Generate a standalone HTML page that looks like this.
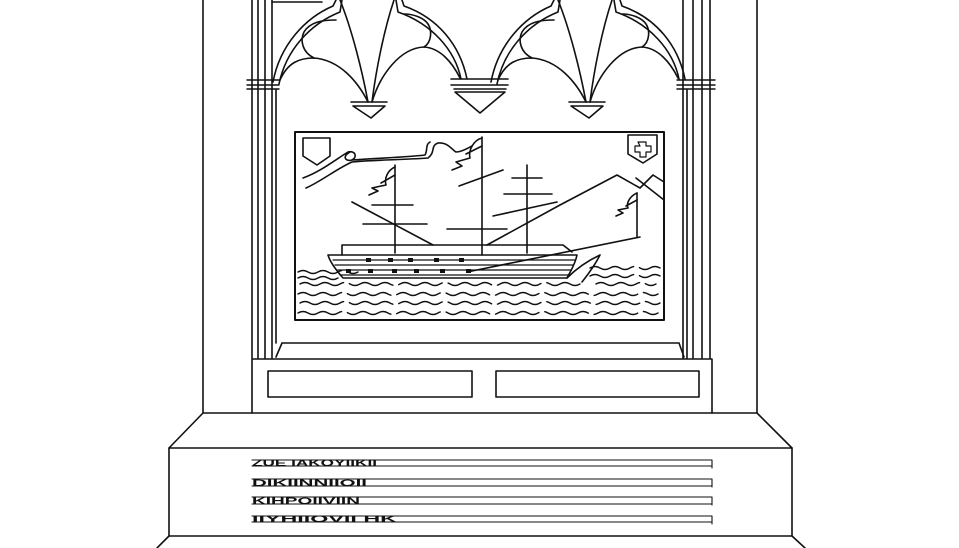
<!DOCTYPE html>
<html><head><meta charset="utf-8"><style>
html,body{margin:0;padding:0;background:#fff;width:959px;height:548px;overflow:hidden}
svg{display:block}
text{font-family:"Liberation Sans",sans-serif;font-weight:bold}
</style></head><body>
<svg width="959" height="548" viewBox="0 0 959 548" xmlns="http://www.w3.org/2000/svg" fill="none" stroke="#111" stroke-width="1.6" stroke-linecap="round" stroke-linejoin="round">
<defs>
<g id="arch">
  <!-- outer arch double line -->
  <path d="M273,82 C280,45 305,18 333,6 L336,0"/>
  <path d="M279,84 C286,50 310,24 340,12 L342,0"/>
  <path d="M467,79 C460,45 438,18 404,6 L402,0"/>
  <path d="M461,79 C455,50 432,24 398,12 L396,0"/>
  <!-- cusp lines to pendant -->
  <path d="M340,0 C352,30 362,70 368,102"/>
  <path d="M394,0 C384,30 376,70 372,102"/>
  <!-- left lobe -->
  <path d="M280,80 C288,62 300,58 314,58 C340,60 358,82 368,102"/>
  <path d="M314,58 C302,52 300,40 304,32 C310,22 322,20 336,20"/>
  <!-- right lobe -->
  <path d="M460,78 C452,62 440,48 424,47 C400,48 380,75 372,102"/>
  <path d="M424,47 C432,42 432,30 428,24 C424,18 414,14 404,14"/>
  <!-- pendant -->
  <path d="M351,102 L387,102 M353,106 L385,106 L371,118 Z"/>
</g>
</defs>

<!-- outer frame -->
<path d="M203,0 L203,413 M757,0 L757,413"/>
<!-- small top box -->
<path d="M272,2 L322,2"/>

<!-- left column -->
<path d="M252,0 V358 M258,0 V358 M265,0 V358 M272,0 V358 M276,90 V343"/>
<path d="M247,80 H279 M247,85 H279 M247,89 H279" stroke-width="1.4"/>
<!-- right column -->
<path d="M683,0 V358 M687,90 V358 M693,0 V358 M702,0 V358 M710,0 V358"/>
<path d="M677,80 H715 M677,85 H715 M677,89 H715" stroke-width="1.4"/>

<use href="#arch"/>
<use href="#arch" transform="translate(218,0)"/>

<!-- middle pendant -->
<path d="M451,79 H508 M451,85 H508 M454,89 H506 M455,92 H505 L480,113 Z"/>

<!-- ship panel -->
<rect x="295" y="132" width="369" height="188" stroke-width="2"/>
<!-- shields -->
<path d="M303,138 H330 V156 L317,165 L303,156 Z"/>
<path d="M628,135 H657 V154 L643,163 L628,154 Z"/>
<path d="M638,142 H646 V146 H651 V152 H646 V157 H640 V152 H635 V146 H640 Z" stroke-width="1.2"/>
<!-- ribbon -->
<path d="M303,178 C320,172 335,160 348,152 C355,150 358,157 352,160 C345,162 342,156 350,152"/>
<path d="M306,188 C320,182 338,168 352,162 C370,160 400,160 428,158 C436,152 430,146 438,143 C448,142 452,150 456,152 C462,152 468,148 472,146"/>
<path d="M352,160 C380,158 410,157 425,155 C428,150 425,145 430,142"/>
<!-- flags -->
<path d="M482,138 C474,140 468,150 470,158 L456,162 L462,166 L452,170 M482,146 L466,154"/>
<path d="M395,167 C388,170 384,178 386,185 L372,188 L378,191 L369,195 M395,175 L381,183"/>
<path d="M637,193 C630,196 626,203 628,208 L618,210 L623,213 L616,216 M637,200 L626,206"/>
<!-- masts -->
<path d="M482,137 V255 M395,165 V253 M527,165 V253 M637,193 V237"/>
<path d="M372,205 H413 M363,224 H427 M512,178 H542 M504,194 H552 M447,229 H507"/>
<path d="M352,202 L433,245 M459,186 L503,170 M493,216 L557,202"/>
<!-- mountain -->
<path d="M487,245 L560,205 L617,175 L640,188 L653,175 L664,182"/>
<path d="M636,178 L664,200"/>
<!-- bowsprit -->
<path d="M467,272 L640,237"/>
<!-- hull -->
<path d="M342,255 V245 H563 L572,252"/>
<path d="M328,255 H577 C575,265 570,272 567,278 H343 C336,270 330,262 328,255 Z"/>
<path d="M333,260 H575 M335,265 H573 M338,270 H571 M340,275 H569" stroke-width="1.2"/>
<path d="M567,278 C575,270 585,262 600,255 C595,265 590,272 582,282" />
<g fill="#111" stroke="none">
<rect x="366" y="258" width="5" height="4"/><rect x="388" y="258" width="5" height="4"/><rect x="408" y="258" width="5" height="4"/><rect x="434" y="258" width="5" height="4"/><rect x="459" y="258" width="5" height="4"/>
<rect x="346" y="269" width="5" height="4"/><rect x="368" y="269" width="5" height="4"/><rect x="392" y="269" width="5" height="4"/><rect x="414" y="269" width="5" height="4"/><rect x="440" y="269" width="5" height="4"/><rect x="466" y="269" width="5" height="4"/>
</g>
<!-- waves -->
<g stroke-width="1.4" stroke-dasharray="46 6">
<path d="M298,272 q5,-3 10,0 t10,0 t10,0 t10,0 t10,0 t10,0"/>
<path d="M298,278 q5,-3 10,0 t10,0 t10,0 t10,0"/>
<path d="M590,268 q5,-3 10,0 t10,0 t10,0 t10,0 t10,0 t10,0 t10,0"/>
<path d="M590,276 q5,-3 10,0 t10,0 t10,0 t10,0 t10,0 t10,0 t10,0"/>
<path d="M596,284 q5,-3 10,0 t10,0 t10,0 t10,0 t10,0 t10,0"/>
<path d="M300,284 q5,-3 10,0 t10,0 t10,0 t10,0 t10,0 t10,0 t10,0 t10,0 t10,0 t10,0 t10,0 t10,0 t10,0 t10,0 t10,0 t10,0 t10,0 t10,0 t10,0 t10,0 t10,0 t10,0 t10,0 t10,0 t10,0 t10,0 t10,0 t10,0"/>
<path d="M298,294 q5,-3 10,0 t10,0 t10,0 t10,0 t10,0 t10,0 t10,0 t10,0 t10,0 t10,0 t10,0 t10,0 t10,0 t10,0 t10,0 t10,0 t10,0 t10,0 t10,0 t10,0 t10,0 t10,0 t10,0 t10,0 t10,0 t10,0 t10,0 t10,0 t10,0 t10,0 t10,0 t10,0 t10,0 t10,0 t10,0 t10,0"/>
<path d="M300,303 q5,-3 10,0 t10,0 t10,0 t10,0 t10,0 t10,0 t10,0 t10,0 t10,0 t10,0 t10,0 t10,0 t10,0 t10,0 t10,0 t10,0 t10,0 t10,0 t10,0 t10,0 t10,0 t10,0 t10,0 t10,0 t10,0 t10,0 t10,0 t10,0 t10,0 t10,0 t10,0 t10,0 t10,0 t10,0 t10,0 t10,0"/>
<path d="M298,313 q5,-3 10,0 t10,0 t10,0 t10,0 t10,0 t10,0 t10,0 t10,0 t10,0 t10,0 t10,0 t10,0 t10,0 t10,0 t10,0 t10,0 t10,0 t10,0 t10,0 t10,0 t10,0 t10,0 t10,0 t10,0 t10,0 t10,0 t10,0 t10,0 t10,0 t10,0 t10,0 t10,0 t10,0 t10,0 t10,0 t10,0"/>
</g>

<!-- sill -->
<path d="M282,343 H679 M282,343 L276,357 M679,343 L684,357"/>
<!-- lower box -->
<path d="M252,359 H712 V413 M252,359 V413"/>
<rect x="268" y="371" width="204" height="26"/>
<rect x="496" y="371" width="203" height="26"/>
<!-- base -->
<path d="M203,413 H757 L792,448 H169 Z"/>
<path d="M169,448 V536 H792 V448"/>
<path d="M169,536 L157,548 M792,536 L805,548"/>
<!-- inscription lines -->
<g stroke-width="1.1">
<path d="M252,460 H712 M252,466 H712 M712,460 V468"/>
<path d="M252,479 H712 M252,486 H712 M712,479 V487"/>
<path d="M252,497 H712 M252,504 H712 M712,497 V505"/>
<path d="M252,516 H712 M252,522 H712 M712,516 V524"/>
</g>
<g fill="#111" stroke="none" font-size="9">
<text x="252" y="466" textLength="125" lengthAdjust="spacingAndGlyphs">ZUE IAKOYIIKII</text>
<text x="252" y="486" textLength="115" lengthAdjust="spacingAndGlyphs">DIKIINNIIOII</text>
<text x="252" y="504" textLength="108" lengthAdjust="spacingAndGlyphs">KIHPOIIVIIN</text>
<text x="252" y="522" textLength="145" lengthAdjust="spacingAndGlyphs">IIYHIIOVII  HK</text>
</g>
</svg>
</body></html>
